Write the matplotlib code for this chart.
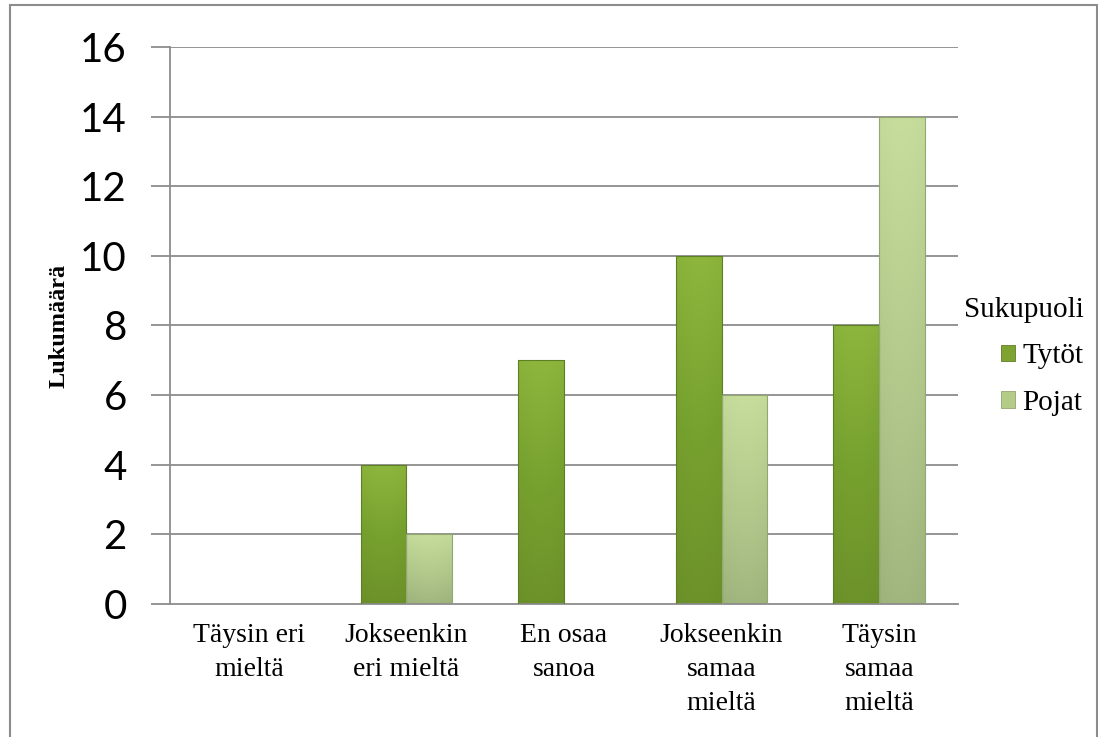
import matplotlib
matplotlib.use("Agg")
import matplotlib.pyplot as plt
import numpy as np
from matplotlib.colors import LinearSegmentedColormap
from matplotlib.patches import Rectangle

categories = ["Täysin eri\nmieltä", "Jokseenkin\neri mieltä", "En osaa\nsanoa",
              "Jokseenkin\nsamaa\nmieltä", "Täysin\nsamaa\nmieltä"]
tytot = [0, 4, 7, 10, 8]
pojat = [0, 2, 0, 6, 14]
series_names = ["Tytöt", "Pojat"]
yticks = [0, 2, 4, 6, 8, 10, 12, 14, 16]

fig = plt.figure(figsize=(10.98, 7.37), dpi=100)
ax = fig.add_axes([0.1548, 0.1805, 0.8725 - 0.1548, 0.9362 - 0.1805])

x = np.arange(len(categories))
w = 0.29
grid_c = "#8c8c8c"
for y in yticks[1:]:
    ax.axhline(y, color=grid_c, lw=1.3, zorder=0)

b1 = ax.bar(x - w / 2, tytot, w, color="#7ea332", edgecolor="#5f7f24", lw=0.6, zorder=2, label=series_names[0])
b2 = ax.bar(x + w / 2, pojat, w, color="#b4cc88", edgecolor="#92a872", lw=0.6, zorder=2, label=series_names[1])

cm1 = LinearSegmentedColormap.from_list("g1", ["#8cb63c", "#76a02e", "#6a8f29"])
cm2 = LinearSegmentedColormap.from_list("g2", ["#c6dd9c", "#b3c98c", "#9db27c"])
for bars, cm in ((b1, cm1), (b2, cm2)):
    for r in bars:
        h = r.get_height()
        if h <= 0:
            continue
        x0 = r.get_x(); bw = r.get_width()
        grad = np.linspace(0, 1, 100).reshape(-1, 1)
        horiz = 0.85 + 0.15 * np.sin(np.linspace(0, np.pi, 50)).reshape(1, -1)
        img = np.clip(grad * np.ones((1, 50)) * 0.9 + (1 - horiz) * 0.6, 0, 1)
        im = ax.imshow(img, cmap=cm, extent=(x0, x0 + bw, 0, h), origin="upper",
                       aspect="auto", zorder=2.5, vmin=0, vmax=1)
        im.set_clip_path(r)
        ax.add_patch(Rectangle((x0, 0), bw, h, fill=False, ec=r.get_edgecolor(), lw=0.8, zorder=3))

ax.set_xlim(-0.5, len(categories) - 0.5)
ax.set_ylim(0, 16)
ax.set_yticks(yticks)
ax.set_yticklabels([str(v) for v in yticks], fontsize=29, family="Lato")
ax.set_xticks(x)
ax.set_xticklabels(categories, fontsize=20, family="Liberation Serif", linespacing=1.45)
ax.tick_params(axis="x", length=0, pad=14)
ax.tick_params(axis="y", length=14, color=grid_c, width=1.3, pad=17)
for s in ["top", "right"]:
    ax.spines[s].set_visible(False)
for s in ["left", "bottom"]:
    ax.spines[s].set_color(grid_c)
    ax.spines[s].set_linewidth(1.3)
ax.set_ylabel("Lukumäärä", fontsize=17.5, family="Liberation Serif", fontweight="bold", labelpad=8)

leg = fig.legend(handles=[b1, b2], labels=series_names, title="Sukupuoli",
                 loc="upper left", bbox_to_anchor=(0.859, 0.625), frameon=False,
                 prop={"family": "Liberation Serif", "size": 21},
                 title_fontproperties={"family": "Liberation Serif", "size": 21},
                 handlelength=0.5, handleheight=0.5, handletextpad=0.25, labelspacing=0.7,
                 borderpad=0.2)
leg._legend_box.align = "right"

fig.patches.append(Rectangle((0.009, -0.01), 0.99, 1.003, transform=fig.transFigure,
                             fill=False, ec="#8c8c8c", lw=1.5))
fig.savefig("out.png", dpi=100)
